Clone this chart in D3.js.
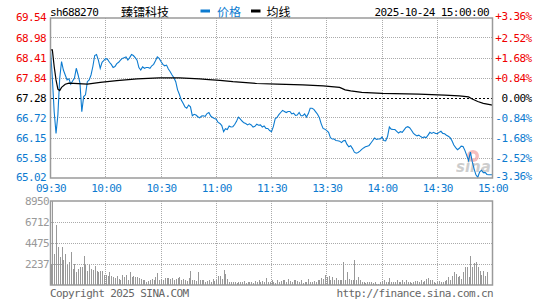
<!DOCTYPE html>
<html>
<head>
<meta charset="utf-8">
<script src="https://cdn.jsdelivr.net/npm/d3@7/dist/d3.min.js"></script>
<style>
body{margin:0;background:#fff;}
svg{display:block;}
.mono{font-family:"DejaVu Sans Mono",monospace;font-size:11px;letter-spacing:-0.6px;}
</style>
</head>
<body>
<svg id="chart" width="545" height="300"></svg>
<script>
// sh688270 minute chart, 2025-10-24
var prevClose = 67.28;
var priceTicks = [69.54,68.98,68.41,67.84,67.28,66.72,66.15,65.58,65.02];
var pctLabels  = ["+3.36%","+2.52%","+1.68%","+0.84%","0.00%","-0.84%","-1.68%","-2.52%","-3.36%"];
var timeTicks  = [0,30,60,90,120,150,180,210,240];
var timeLabels = ["09:30","10:00","10:30","11:00","11:30","13:30","14:00","14:30","15:00"];
var volTicks   = [8950,6712,4475,2237];

// one price per minute, 241 points
var prices = [
 68.64,67.84,66.89,66.28,66.80,67.84,68.31,68.07,67.93,67.79,
 67.82,67.67,67.76,67.84,68.12,67.93,67.70,66.89,67.32,67.37,
 67.74,67.79,67.93,68.17,68.48,68.51,68.35,68.12,68.29,68.34,
 68.40,68.37,68.29,68.23,68.14,68.17,68.25,68.29,68.35,68.40,
 68.42,68.44,68.35,68.42,68.51,68.48,68.42,68.35,68.14,68.07,
 68.16,68.12,68.14,68.14,68.12,68.19,68.23,68.33,68.44,68.40,
 68.31,68.23,68.19,68.21,68.10,68.02,67.93,67.85,67.74,67.51,
 67.38,67.22,67.13,67.03,66.99,67.08,67.03,66.78,66.82,66.80,
 66.75,66.72,66.77,66.78,66.76,66.84,66.87,66.77,66.73,66.70,
 66.68,66.59,66.56,66.50,66.33,66.41,66.39,66.49,66.46,66.47,
 66.53,66.62,66.74,66.69,66.63,66.58,66.56,66.52,66.55,66.52,
 66.46,66.48,66.54,66.51,66.52,66.46,66.49,66.42,66.42,66.36,
 66.33,66.47,66.69,66.73,66.81,66.87,66.93,66.90,66.87,66.90,
 66.90,66.83,66.85,66.79,66.80,66.87,66.78,66.78,66.83,66.74,
 66.84,66.99,66.99,66.96,66.89,66.82,66.72,66.55,66.42,66.40,
 66.36,66.31,66.16,66.12,66.12,66.08,66.07,66.06,66.02,66.07,
 66.08,65.97,65.90,65.93,65.85,65.75,65.72,65.74,65.78,65.83,
 65.87,65.90,65.92,65.94,66.01,66.08,66.15,66.11,66.12,66.12,
 66.18,66.08,66.07,66.19,66.46,66.40,66.39,66.39,66.34,66.29,
 66.33,66.31,66.38,66.45,66.47,66.44,66.37,66.29,66.24,66.21,
 66.23,66.19,66.16,66.18,66.16,66.23,66.31,66.28,66.31,66.28,
 66.27,66.31,66.34,66.28,66.27,66.23,66.20,66.16,66.07,65.95,
 65.88,65.82,65.86,65.92,65.91,65.80,65.66,65.51,65.75,65.48,
 65.28,65.11,65.04,65.19,65.24,65.17,65.18,65.12,65.11,65.11,65.11
];

// average price line, read at its turning points
var avgMinutes = [0,1,2,3,4,5,6,8,10,20,27,36,47,59,70,81,86,92,99,112,123,137,148,157,160,163,169,180,200,214,222,227,229,232,235,240];
var avgPrices  = [68.64,68.64,68.17,67.79,67.53,67.49,67.58,67.67,67.70,67.67,67.72,67.77,67.82,67.85,67.85,67.82,67.80,67.78,67.74,67.69,67.67,67.65,67.62,67.58,67.51,67.48,67.44,67.41,67.39,67.36,67.34,67.31,67.25,67.18,67.13,67.08];

// volume per minute (lots)
var volumes = [
 2265,8950,3330,6400,4000,3000,4000,2690,3330,2160,
 2400,3470,1730,2265,1380,1730,1950,1880,3040,2160,
 1450,2090,1660,1590,2050,1520,1380,1490,1450,1100,
 1100,920,1380,920,815,745,920,640,570,1100,
 815,1100,570,1380,850,920,850,885,745,640,
 570,530,320,390,530,640,570,815,1240,570,
 640,500,750,700,780,600,750,550,640,750,
 820,560,640,500,430,700,1530,570,500,390,
 1355,500,570,500,360,430,500,360,640,430,
 500,1000,1000,600,1640,1210,640,360,290,320,
 300,250,360,280,320,400,250,290,360,320,
 250,430,360,500,320,430,320,785,360,290,
 500,360,250,570,360,430,500,570,360,640,
 430,360,500,570,430,360,570,220,290,360,
 640,360,290,430,360,500,570,785,640,1100,
 855,1000,570,855,500,715,570,500,570,2425,
 500,1355,640,500,570,2640,570,855,570,360,
 290,220,360,290,360,220,290,150,150,360,
 430,500,360,290,750,290,360,360,500,360,
 360,500,290,500,360,290,220,360,430,430,
 360,570,360,430,640,750,570,570,290,220,
 360,430,290,360,430,500,820,500,930,1355,
 1180,860,930,640,1430,1925,1925,860,3140,1925,
 2350,2500,1925,1530,1100,1530,1000,1400,0,0,0
];

var BLUE="#0c7bd0", RED="#f00000", GRID="#aaa", BORDER="#9a9a9a";

var svg=d3.select("#chart");

var left=50.5, right=492.5;
var pTop=18, pBottom=178;
var vTop=201, vBottom=285;

var x=d3.scaleLinear().domain([0,240]).range([left,right]);
var yP=d3.scaleLinear().domain([priceTicks[8],priceTicks[0]]).range([pBottom,pTop]);
var yV=d3.scaleLinear().domain([0,volTicks[0]]).range([vBottom,vTop]);

function tickColor(i){
    if (i<4) return RED;
    if (i===4) return "#000";
    return BLUE;
}
// first/last labels sit a little inside the box
function edgeShift(i,top,bottom){
    if (i===0) return top;
    if (i===8) return bottom;
    return 0;
}

// ---- header
var head=svg.append("g");
head.append("text").attr("class","mono").attr("x",50).attr("y",16).text("sh688270");
head.append("text").attr("x",121).attr("y",16.5)
    .style("font-family","'Noto Sans CJK SC'").style("font-size","12px").text("臻镭科技");
head.append("rect").attr("x",200.5).attr("y",9.5).attr("width",9.5).attr("height",3).attr("fill",BLUE);
head.append("text").attr("x",217).attr("y",16.5).attr("fill",BLUE)
    .style("font-family","'Noto Sans CJK SC'").style("font-size","12px").text("价格");
head.append("rect").attr("x",251).attr("y",9.5).attr("width",9.5).attr("height",3).attr("fill","#000");
head.append("text").attr("x",266.5).attr("y",16.5)
    .style("font-family","'Noto Sans CJK SC'").style("font-size","12px").text("均线");
head.append("text").attr("class","mono").attr("x",489).attr("y",16).attr("text-anchor","end").text("2025-10-24 15:00:00");

// ---- grids
var gridP=svg.append("g").attr("shape-rendering","crispEdges");
gridP.selectAll("line.h").data(priceTicks.slice(1,8)).enter().append("line")
    .attr("x1",left).attr("x2",right)
    .attr("y1",function(d){return yP(d);}).attr("y2",function(d){return yP(d);})
    .attr("stroke",function(d){return d===prevClose?"#000":GRID;})
    .attr("stroke-dasharray",function(d){return d===prevClose?"2,2":"1,1";});
gridP.selectAll("line.v").data(timeTicks.slice(1,8)).enter().append("line")
    .attr("x1",function(d){return x(d);}).attr("x2",function(d){return x(d);})
    .attr("y1",pTop).attr("y2",pBottom)
    .attr("stroke",GRID).attr("stroke-dasharray","1,1");

var gridV=svg.append("g").attr("shape-rendering","crispEdges");
gridV.selectAll("line.h").data(volTicks.slice(1)).enter().append("line")
    .attr("x1",left).attr("x2",right)
    .attr("y1",function(d){return yV(d);}).attr("y2",function(d){return yV(d);})
    .attr("stroke",GRID).attr("stroke-dasharray","1,1");
gridV.selectAll("line.v").data(timeTicks.slice(1,8)).enter().append("line")
    .attr("x1",function(d){return x(d);}).attr("x2",function(d){return x(d);})
    .attr("y1",vTop).attr("y2",vBottom)
    .attr("stroke",GRID).attr("stroke-dasharray","1,1");

// ---- sina watermark
var wm=svg.append("g").attr("opacity",0.75);
wm.append("circle").attr("cx",473).attr("cy",156).attr("r",6).attr("fill","#f2a8a8");
wm.append("circle").attr("cx",473).attr("cy",156).attr("r",2.5).attr("fill","#fff");
wm.append("text").attr("x",456).attr("y",172)
    .style("font-family","'DejaVu Sans'").style("font-size","15px").style("font-weight","bold").style("font-style","italic")
    .attr("fill","#bdbdbd").text("sina");

// ---- volume bars
svg.append("g").attr("shape-rendering","crispEdges").selectAll("rect").data(volumes).enter().append("rect")
    .attr("x",function(d,i){return Math.round(x(i))-0.5;})
    .attr("width",1)
    .attr("y",function(d){return yV(d);})
    .attr("height",function(d){return vBottom-yV(d);})
    .attr("fill","#999");

// ---- price + average lines
var priceLine=d3.line().x(function(d,i){return x(i);}).y(function(d){return yP(d);});
svg.append("path").datum(prices).attr("d",priceLine)
    .attr("fill","none").attr("stroke",BLUE).attr("stroke-width",1.1);

var avgLine=d3.line().x(function(d,i){return x(avgMinutes[i]);}).y(function(d){return yP(d);});
svg.append("path").datum(avgPrices).attr("d",avgLine)
    .attr("fill","none").attr("stroke","#000").attr("stroke-width",1.2);

// ---- borders
svg.append("rect").attr("x",left).attr("y",pTop).attr("width",right-left).attr("height",pBottom-pTop)
    .attr("fill","none").attr("stroke",BORDER).attr("stroke-width",1.5);
svg.append("rect").attr("x",left).attr("y",vTop).attr("width",right-left).attr("height",vBottom-vTop)
    .attr("fill","none").attr("stroke",BORDER).attr("stroke-width",1.5);

// ---- axes (labels only)
function cleanAxis(g){
    g.select(".domain").remove();
    g.selectAll("line").remove();
    g.selectAll("text").attr("class","mono").attr("font-family",null).attr("font-size",null);
}

var axL=svg.append("g").attr("transform","translate("+left+",0)")
    .call(d3.axisLeft(yP).tickValues(priceTicks).tickSize(0).tickPadding(4.5)
        .tickFormat(function(d){return d.toFixed(2);}));
cleanAxis(axL);
axL.selectAll("text").attr("fill",function(d,i){return tickColor(i);})
    .attr("y",function(d,i){return edgeShift(i,-1,-1);});

var axR=svg.append("g").attr("transform","translate("+right+",0)")
    .call(d3.axisRight(yP).tickValues(priceTicks).tickSize(0)
        .tickFormat(function(d,i){return pctLabels[i];}));
cleanAxis(axR);
axR.selectAll("text").attr("x",39).attr("text-anchor","end")
    .attr("fill",function(d,i){return tickColor(i);})
    .attr("y",function(d,i){return edgeShift(i,-2,-2);});

var axB=svg.append("g").attr("transform","translate(0,"+pBottom+")")
    .call(d3.axisBottom(x).tickValues(timeTicks).tickSize(0).tickPadding(6.5)
        .tickFormat(function(d,i){return timeLabels[i];}));
cleanAxis(axB);
axB.selectAll("text").attr("fill",BLUE);

var axV=svg.append("g").attr("transform","translate("+left+",0)")
    .call(d3.axisLeft(yV).tickValues(volTicks).tickSize(0).tickPadding(1.5)
        .tickFormat(function(d){return String(d);}));
cleanAxis(axV);
axV.selectAll("text").attr("fill","#999");

// ---- footer
svg.append("text").attr("class","mono").attr("x",50).attr("y",297).attr("fill","#666").text("Copyright 2025 SINA.COM");
svg.append("text").attr("class","mono").attr("x",493).attr("y",297).attr("text-anchor","end").attr("fill","#666").text("http://finance.sina.com.cn");
</script>
</body>
</html>
